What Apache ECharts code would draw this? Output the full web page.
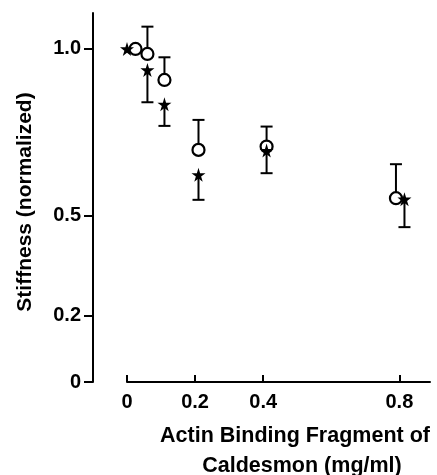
<!DOCTYPE html>
<html><head><meta charset="utf-8">
<script src="https://cdn.jsdelivr.net/npm/echarts@6/dist/echarts.min.js"></script>
<style>html,body{margin:0;padding:0;background:#fff}#c{width:437px;height:475px}</style>
</head><body><div id="c"></div>
<script>
// Data
const xTicks = [0, 0.2, 0.4, 0.8];
const yTicks = [0, 0.2, 0.5, 1.0];
// open circles
const circleX = [0.025, 0.06, 0.11, 0.21, 0.41, 0.79];
const circleY = [1.0, 0.985, 0.907, 0.697, 0.707, 0.552];
const circleErrHi = [null, 1.067, 0.975, 0.787, 0.767, 0.654];
// filled stars
const starX = [0, 0.06, 0.11, 0.21, 0.41, 0.815];
const starY = [1.0, 0.937, 0.834, 0.622, 0.695, 0.549];
const starErrLo = [null, 0.84, 0.769, 0.547, 0.627, 0.465];

const xName1 = 'Actin Binding Fragment of';
const xName2 = 'Caldesmon (mg/ml)';
const yName = 'Stiffness (normalized)';

const FONT = '"Liberation Sans", Arial, Helvetica, sans-serif';
const starPath = 'path://M50,0 L61,35 L98,35 L68,57 L79,91 L50,70 L21,91 L32,57 L2,35 L39,35 Z';

function errData(xs, ys, es) {
  const out = [];
  xs.forEach((x, i) => { if (es[i] != null) out.push([x, ys[i], es[i]]); });
  return out;
}
function errRender(params, api) {
  const p0 = api.coord([api.value(0), api.value(1)]);
  const p1 = api.coord([api.value(0), api.value(2)]);
  const hw = 6;
  const st = { stroke: '#000', lineWidth: 2 };
  return { type: 'group', children: [
    { type: 'line', shape: { x1: p0[0], y1: p0[1], x2: p1[0], y2: p1[1] }, style: st },
    { type: 'line', shape: { x1: p1[0] - hw, y1: p1[1], x2: p1[0] + hw, y2: p1[1] }, style: st }
  ]};
}

const chart = echarts.init(document.getElementById('c'), null, { renderer: 'canvas' });
chart.setOption({
  animation: false,
  backgroundColor: '#fff',
  grid: { left: 127, right: 7, top: 13, bottom: 93, containLabel: false },
  xAxis: {
    type: 'value', min: 0, max: 0.89,
    splitLine: { show: false },
    axisLine: { onZero: false, lineStyle: { color: '#000', width: 2 } },
    axisTick: { show: true, inside: true, length: 7, lineStyle: { color: '#000', width: 2 }, customValues: xTicks },
    axisLabel: { customValues: xTicks, margin: 10, color: '#000', fontFamily: FONT, fontSize: 20, fontWeight: 'bold',
      formatter: v => v === 0 ? '0' : v.toFixed(1) }
  },
  yAxis: {
    type: 'value', min: 0, max: 1.108, offset: 34,
    splitLine: { show: false },
    axisLine: { onZero: false, lineStyle: { color: '#000', width: 2 } },
    axisTick: { show: true, inside: false, length: 9, lineStyle: { color: '#000', width: 2 }, customValues: yTicks },
    axisLabel: { customValues: yTicks, margin: 12, color: '#000', fontFamily: FONT, fontSize: 20, fontWeight: 'bold',
      formatter: v => v === 0 ? '0' : v.toFixed(1) }
  },
  graphic: [
    { type: 'text', x: 295, y: 436, style: { text: xName1, font: 'bold 21.5px ' + FONT, fill: '#000', align: 'center', verticalAlign: 'middle' } },
    { type: 'text', x: 302, y: 466, style: { text: xName2, font: 'bold 21.5px ' + FONT, fill: '#000', align: 'center', verticalAlign: 'middle' } },
    { type: 'text', x: 25, y: 202, rotation: Math.PI / 2, style: { text: yName, font: 'bold 21px ' + FONT, fill: '#000', align: 'center', verticalAlign: 'middle' } }
  ],
  series: [
    { type: 'custom', renderItem: errRender, data: errData(circleX, circleY, circleErrHi), z: 1, silent: true },
    { type: 'custom', renderItem: errRender, data: errData(starX, starY, starErrLo), z: 1, silent: true },
    { type: 'scatter', data: circleX.map((x, i) => [x, circleY[i]]), symbol: 'circle', symbolSize: 12,
      itemStyle: { color: '#fff', borderColor: '#000', borderWidth: 2.2, opacity: 1 }, z: 3 },
    { type: 'scatter', data: starX.map((x, i) => [x, starY[i]]), symbol: starPath, symbolSize: 14,
      itemStyle: { color: '#000', opacity: 1 }, z: 4 }
  ]
});
</script></body></html>
